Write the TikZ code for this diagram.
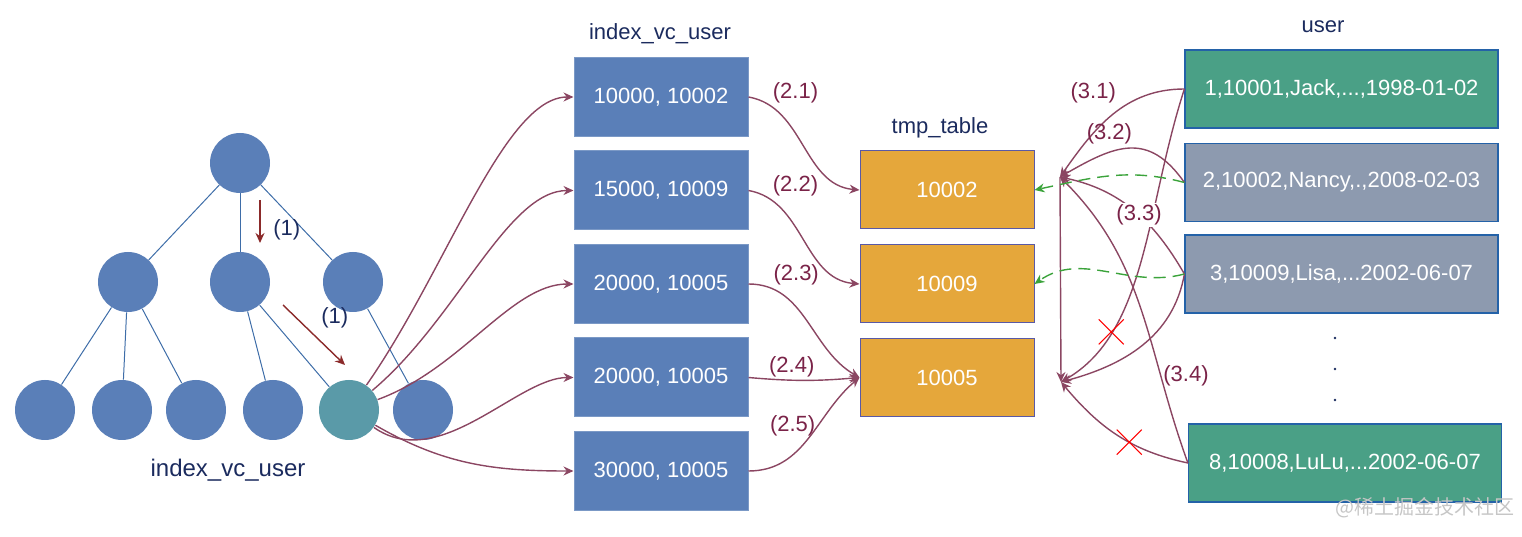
\documentclass[tikz,border=0pt]{standalone}
\usepackage{fontspec}
\setmainfont{Liberation Sans}
\newfontfamily\cjkfont{Noto Sans CJK SC}
\usepackage{tikz}
\usetikzlibrary{arrows.meta, positioning, shapes.misc}
\definecolor{nodeblue}{HTML}{5A7FB8}
\definecolor{leafteal}{HTML}{5A9AA8}
\definecolor{tmporange}{HTML}{E5A73B}
\definecolor{rowgreen}{HTML}{4AA086}
\definecolor{rowgray}{HTML}{8D9AAF}
\definecolor{navy}{HTML}{1B2B5E}
\definecolor{plum}{HTML}{8B4662}
\definecolor{plumtext}{HTML}{7A2348}
\definecolor{darkred}{HTML}{8B2A2A}
\definecolor{dashgreen}{HTML}{3BA33B}
\definecolor{treeline}{HTML}{3E6DA8}
\definecolor{rowborder}{HTML}{2462A8}

\tikzset{
  tnode/.style={circle, fill=nodeblue, minimum size=30pt, inner sep=0pt},
  tedge/.style={draw=treeline, line width=0.5pt},
  ibox/.style={rectangle, fill=nodeblue, draw=nodeblue!80!white, line width=0.5pt, minimum width=87pt, minimum height=39.5pt, text=white, font=\fontsize{11}{13}\selectfont},
  tbox/.style={rectangle, fill=tmporange, draw=gray!70!blue, line width=0.5pt, minimum width=87pt, minimum height=39pt, text=white, font=\fontsize{11}{13}\selectfont},
  ubox/.style={rectangle, draw=rowborder, line width=0.6pt, minimum width=156.5pt, minimum height=39pt, text=white, font=\fontsize{11}{13}\selectfont},
  lbl/.style={text=navy, font=\fontsize{11}{13}\selectfont},
  elbl/.style={text=plumtext, font=\fontsize{11}{13}\selectfont, inner sep=1pt},
  edge/.style={draw=plum, line width=0.7pt, ->},
  gedge/.style={draw=dashgreen, line width=0.7pt, dash pattern=on 6pt off 3.5pt, ->},
  tarrow/.style={draw=darkred, line width=0.7pt, ->},
  xmark/.style={cross out, draw=red, line width=0.5pt, minimum size=12pt, inner sep=0pt},
}

\begin{document}
\begin{tikzpicture}[>={Stealth[length=5pt,width=4.5pt]}, x=0.5pt, y=0.5pt]
    \useasboundingbox (0,0) rectangle (1522,536);

    % B+ tree of index_vc_user
    \node[tnode] (root) at (240,373) {};
    \node[tnode] (n1) at (128,254) {};
    \node[tnode] (n2) at (240,254) {};
    \node[tnode] (n3) at (353,254) {};
    \foreach \i/\x in {1/45, 2/122, 3/196, 4/273, 6/423}
        \node[tnode] (leaf\i) at (\x,126) {};
    \node[tnode, fill=leafteal] (leaf5) at (349,126) {};
    \foreach \a/\b in {root/n1, root/n2, root/n3, n1/leaf1, n1/leaf2, n1/leaf3, n2/leaf4, n2/leaf5, n3/leaf6}
        \draw[tedge] (\a) -- (\b);
    \node[lbl, font=\fontsize{12}{14}\selectfont] (treetitle) at (228,66) {index\_vc\_user};

    % search path
    \draw[tarrow] (260,336) -- (260,293) node[lbl, pos=0.7, right=3pt] {(1)};
    \draw[tarrow] (283,231) -- (345,171) node[lbl, midway, above right=0pt] {(1)};

    % index entries
    \node[lbl] (idxtitle) at (660,502) {index\_vc\_user};
    \node[ibox] (i1) at (661,439) {10000, 10002};
    \node[ibox] (i2) at (661,345.5) {15000, 10009};
    \node[ibox] (i3) at (661,252) {20000, 10005};
    \node[ibox] (i4) at (661,158.5) {20000, 10005};
    \node[ibox] (i5) at (661,65) {30000, 10005};

    % tmp_table
    \node[lbl] (tmptitle) at (940,408) {tmp\_table};
    \node[tbox] (t1) at (947,346) {10002};
    \node[tbox] (t2) at (947,252) {10009};
    \node[tbox] (t3) at (947,158.5) {10005};

    % user rows
    \node[lbl] (usertitle) at (1323,509) {user};
    \node[ubox, fill=rowgreen] (u1) at (1341.5,447) {1,10001,Jack,...,1998-01-02};
    \node[ubox, fill=rowgray] (u2) at (1341.5,353.5) {2,10002,Nancy,.,2008-02-03};
    \node[ubox, fill=rowgray] (u3) at (1341.5,262) {3,10009,Lisa,...2002-06-07};
    \node[ubox, fill=rowgreen] (u8) at (1345,73) {8,10008,LuLu,...2002-06-07};
    \foreach \y in {198,167,136}
        \fill[navy] (1335,\y) circle (1.3);

    % leaf -> index entries
    \draw[edge] (leaf5) to[out=55, in=180, in looseness=0.5] (i1.west);
    \draw[edge] (leaf5) to[out=40, in=180, in looseness=0.6] (i2.west);
    \draw[edge] (leaf5) to[out=20, in=180, in looseness=0.7] (i3.west);
    \draw[edge] (leaf5) to[out=-35, in=180, in looseness=0.7] (i4.west);
    \draw[edge] (leaf5) to[out=-30, in=180] (i5.west);

    % index entries -> tmp_table
    \draw[edge] (i1.east) to[out=-10, in=175] node[elbl, pos=0.15, anchor=south west] {(2.1)} (t1.west);
    \draw[edge] (i2.east) to[out=-10, in=175] node[elbl, pos=0.15, anchor=south west] {(2.2)} (t2.west);
    \draw[edge] (i3.east) to[out=0, in=150] node[elbl, pos=0.15, anchor=south west] {(2.3)} (t3.west);
    \draw[edge] (i4.east) to[out=-5, in=-175] node[elbl, pos=0.38, above] {(2.4)} (t3.west);
    \draw[edge] (i5.east) to[out=0, in=-140] node[elbl, pos=0.6, anchor=east] {(2.5)} (t3.west);

    % lookups in user
    \coordinate (p1) at (1060,359);
    \coordinate (p2) at (1061,154);
    \draw[edge] (p1) -- (p2);
    \draw[edge] (u1.west) to[out=180, in=55] node[elbl, pos=0.45, anchor=south east, yshift=2pt] {(3.1)} (p1);
    \draw[edge] (u2.west) to[out=125, in=30, looseness=1.3] node[elbl, pos=0.66, above=3pt] {(3.2)} (p1);
    \draw[edge] (u1.west) to[out=-108, in=30, in looseness=0.8] node[xmark, pos=0.75] (x1) {} (p2);
    \draw[edge] (u3.west) to[out=-100, in=15] (p2);
    \draw[edge] (u8.west) to[out=110, in=-45] node[elbl, pos=0.27, right=0pt] {(3.4)} (p1);
    \draw[edge] (u8.west) to[out=168, in=-50] node[xmark, pos=0.4] (x2) {} (p2);
    \draw[edge] (u3.west) to[out=120, in=-12] node[elbl, pos=0.45, fill=white] {(3.3)} (p1);
    \draw[gedge] (u2.west) to[out=165, in=12] (t1.east);
    \draw[gedge] (u3.west) to[out=195, in=35] (t2.east);

    \node[text=gray!45, font=\cjkfont\fontsize{10}{12}\selectfont] (mark) at (1425,28) {@稀土掘金技术社区};
\end{tikzpicture}
\end{document}
